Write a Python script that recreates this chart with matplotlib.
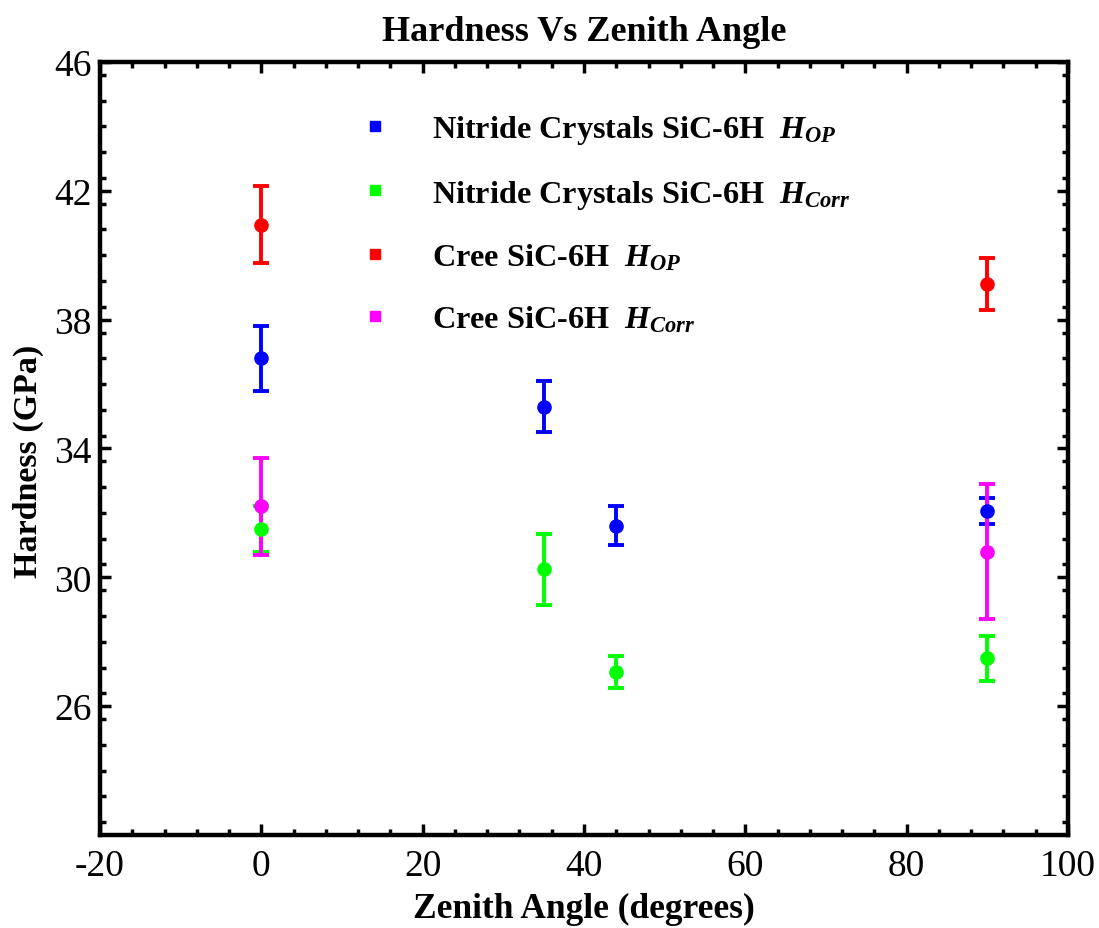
import matplotlib
matplotlib.use("Agg")
import matplotlib.pyplot as plt
from matplotlib.lines import Line2D
from matplotlib.ticker import MultipleLocator

plt.rcParams['font.family'] = ['Liberation Serif', 'DejaVu Serif']
plt.rcParams['mathtext.fontset'] = 'custom'
plt.rcParams['mathtext.rm'] = 'Liberation Serif:bold'
plt.rcParams['mathtext.it'] = 'Liberation Serif:italic:bold'
plt.rcParams['mathtext.bf'] = 'Liberation Serif:bold'
plt.rcParams['axes.unicode_minus'] = False

# Data
nitride_op_x = [0, 35, 44, 90]
nitride_op_y = [36.8, 35.3, 31.6, 32.07]
nitride_op_err = [1.0, 0.8, 0.6, 0.4]

nitride_corr_x = [0, 35, 44, 90]
nitride_corr_y = [31.5, 30.25, 27.05, 27.48]
nitride_corr_err = [0.7, 1.1, 0.5, 0.7]

cree_op_x = [0, 90]
cree_op_y = [40.95, 39.1]
cree_op_err = [1.2, 0.8]

cree_corr_x = [0, 90]
cree_corr_y = [32.2, 30.8]
cree_corr_err = [1.5, 2.1]

labels = [r"Nitride Crystals SiC-6H  $H_{OP}$",
          r"Nitride Crystals SiC-6H  $H_{Corr}$",
          r"Cree SiC-6H  $H_{OP}$",
          r"Cree SiC-6H  $H_{Corr}$"]
colors = ['#0000ff', '#00ff00', '#ff0000', '#ff00ff']

fig = plt.figure(figsize=(10.99, 9.29), dpi=100)
ax = fig.add_axes([100/1099, 1-836/929, 968/1099, 773/929])

series = [(nitride_op_x, nitride_op_y, nitride_op_err),
          (nitride_corr_x, nitride_corr_y, nitride_corr_err),
          (cree_op_x, cree_op_y, cree_op_err),
          (cree_corr_x, cree_corr_y, cree_corr_err)]
for (x, y, e), c in zip(series, colors):
    ax.errorbar(x, y, yerr=e, fmt='o', color=c, ms=9.5, elinewidth=2.8,
                capsize=5.8, capthick=2.8, zorder=3)

ax.set_xlim(-20, 100)
ax.set_ylim(22, 46)
ax.xaxis.set_major_locator(MultipleLocator(20))
ax.xaxis.set_minor_locator(MultipleLocator(4))
ax.yaxis.set_minor_locator(MultipleLocator(0.8))
ax.set_yticks([26, 30, 34, 38, 42, 46])
ax.tick_params(which='both', direction='in', top=True, right=True,
               labelsize=27, width=2.5)
ax.tick_params(axis='x', pad=10)
ax.tick_params(axis='y', pad=6)
ax.tick_params(which='major', length=8)
ax.tick_params(which='minor', length=4)
for s in ax.spines.values():
    s.set_linewidth(3.2)

ax.set_xlabel('Zenith Angle (degrees)', fontsize=25.5, fontweight='bold', labelpad=6)
ax.set_ylabel('Hardness (GPa)', fontsize=24.5, fontweight='bold', labelpad=10)
ax.yaxis.set_label_coords(-0.058, 0.485)
ax.set_title('Hardness Vs Zenith Angle', fontsize=26, fontweight='bold', pad=16)

handles = [Line2D([], [], ls='none', marker='s', color=c, ms=6.5) for c in colors]
leg = ax.legend(handles, labels, loc='upper left', bbox_to_anchor=(0.238, 0.971),
                frameon=False, labelspacing=0.97, handlelength=1.0,
                handletextpad=1.25, prop={'weight': 'bold', 'size': 23.2})

fig.savefig('out.png', dpi=100)
